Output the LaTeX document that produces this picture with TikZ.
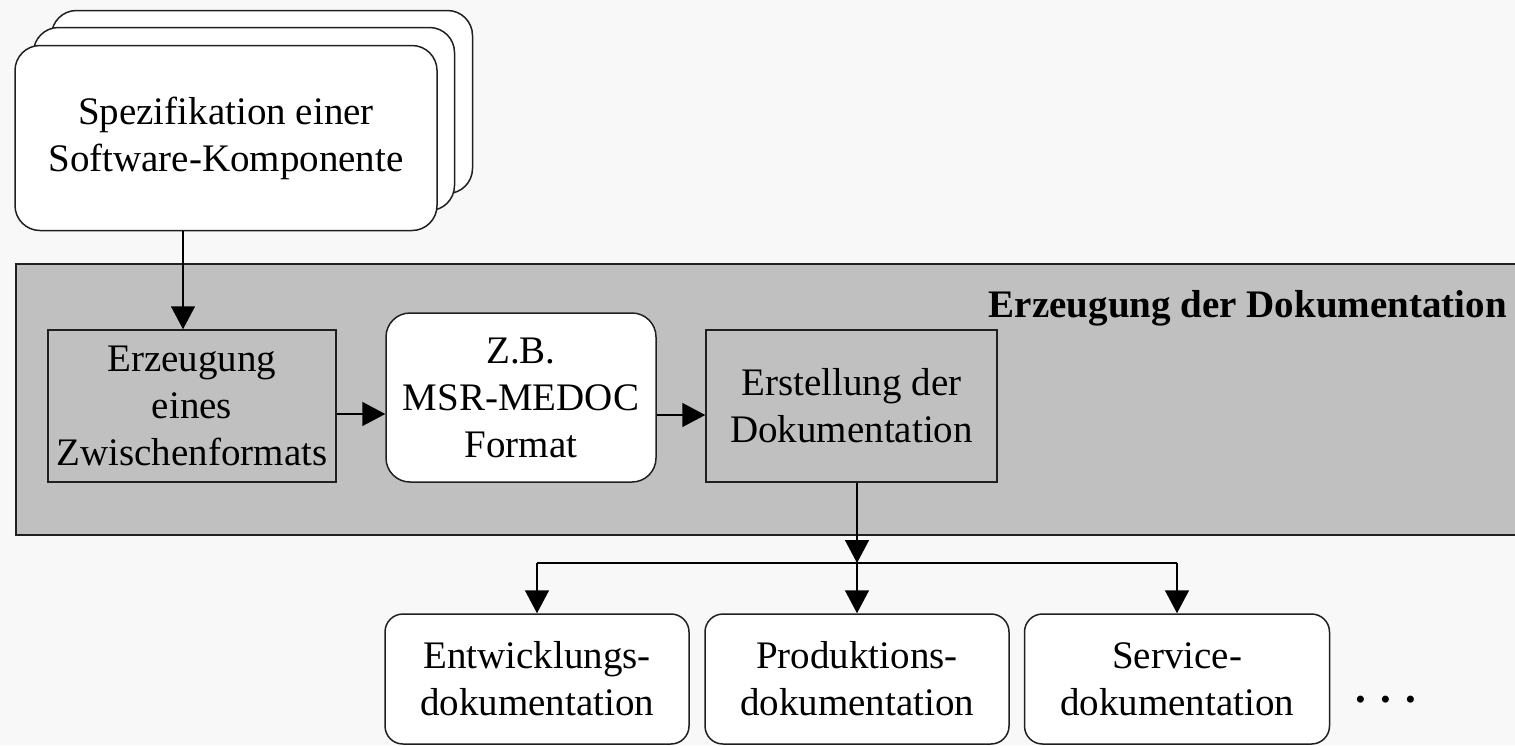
\documentclass[tikz,border=0pt]{standalone}
\usepackage{fontspec}
\setmainfont{Liberation Serif}
\usetikzlibrary{arrows.meta}
\definecolor{pagebg}{HTML}{F8F8F8}
\definecolor{panelgray}{HTML}{C0C0C0}
\definecolor{edge}{HTML}{202020}
\tikzset{
  every node/.style={font=\fontsize{39}{47}\selectfont, align=center, inner sep=0pt},
  plainbox/.style={draw=edge, line width=1.5pt, rectangle},
  roundbox/.style={draw=edge, line width=1.5pt, fill=white, rounded corners=#1},
  roundbox/.default=20pt,
  arr/.style={draw=black, line width=1.5pt, -{Triangle[length=23pt,width=24pt]}},
  link/.style={draw=black, line width=1.5pt}
}
\begin{document}
\begin{tikzpicture}[x=1pt, y=-1pt]
  \fill[pagebg] (0,0) rectangle (1515,745);
  \useasboundingbox (0,0) rectangle (1515,745);
  \clip (0,0) rectangle (1515,745);

  % stacked specification cards
  \node[roundbox=25pt, minimum width=421pt, minimum height=183pt] (specC) at (262,102) {};
  \node[roundbox=25pt, minimum width=421pt, minimum height=183pt] (specB) at (244,119) {};
  \node[roundbox=25pt, minimum width=422pt, minimum height=185pt] (spec) at (226,138)
    {Spezifikation einer\\Software-Komponente};

  % generation panel
  \node[plainbox, fill=panelgray, anchor=north west, minimum width=1530pt, minimum height=271pt]
    (panel) at (15,263) {};
  \node[anchor=base east, font=\fontsize{39}{47}\selectfont\bfseries] (title) at (1507,317)
    {Erzeugung der Dokumentation};

  \node[plainbox, minimum width=288pt, minimum height=152pt] (erz) at (192,406)
    {Erzeugung\\eines\\Zwischenformats};
  \node[roundbox=24pt, minimum width=270pt, minimum height=169pt] (zb) at (521,397.5)
    {Z.B.\\MSR-MEDOC\\Format};
  \node[plainbox, minimum width=291pt, minimum height=152pt] (erst) at (851.5,406)
    {Erstellung der\\Dokumentation};

  % output documents
  \node[roundbox=18pt, minimum width=304pt, minimum height=130pt] (dev) at (537,679)
    {Entwicklungs-\\dokumentation};
  \node[roundbox=18pt, minimum width=304pt, minimum height=130pt] (prod) at (857,679)
    {Produktions-\\dokumentation};
  \node[roundbox=18pt, minimum width=305pt, minimum height=130pt] (serv) at (1177,679)
    {Service-\\dokumentation};
  \node[font=\fontsize{43}{50}\selectfont\bfseries] (more) at (1386,700) {. . .};

  % connectors
  \draw[arr] ([xshift=-43pt]spec.south) -- ([xshift=-43pt]spec.south |- erz.north);
  \draw[arr] ([yshift=-8pt]erz.east) -- ([yshift=-8pt]erz.east -| zb.west);
  \draw[arr] ([yshift=-9pt]erst.west -| zb.east) -- ([yshift=-9pt]erst.west);
  \coordinate (j) at (857,563);
  \draw[arr] (erst.south -| j) -- (j);
  \draw[link] (dev.north |- j) -- (serv.north |- j);
  \draw[arr] (j) -- (prod.north);
  \draw[arr] (dev.north |- j) -- (dev.north);
  \draw[arr] (serv.north |- j) -- (serv.north);
\end{tikzpicture}
\end{document}
